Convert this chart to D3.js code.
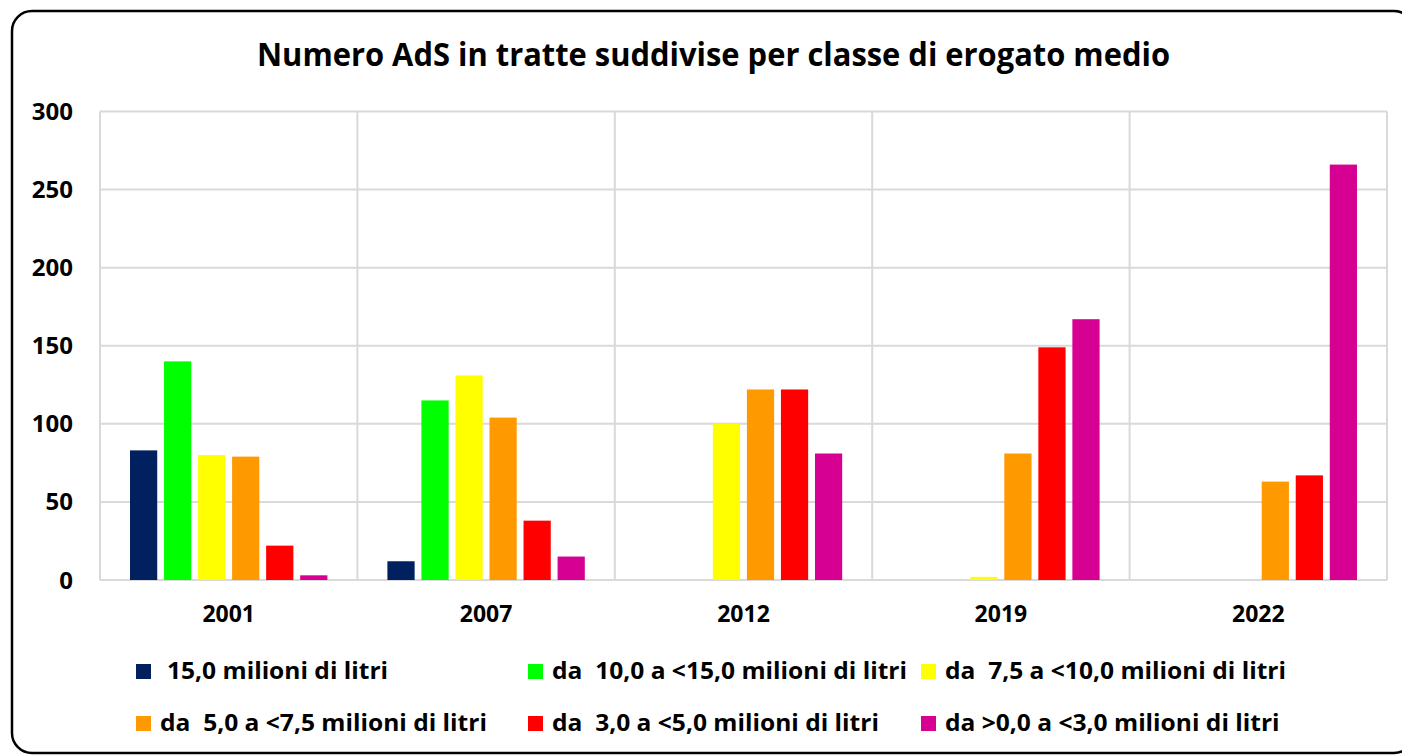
<!DOCTYPE html>
<html>
<head>
<meta charset="utf-8">
<script src="https://cdn.jsdelivr.net/npm/d3@7"></script>
<style>
  html, body { margin: 0; padding: 0; background: #fff; }
  svg text { font-family: "Open Sans", "Liberation Sans", Arial, sans-serif; font-weight: 700; fill: #000; white-space: pre; }
</style>
</head>
<body>
<div id="chart"></div>
<script>
// chart data
var years = ["2001", "2007", "2012", "2019", "2022"];
var seriesNames = [
	"15,0 milioni di litri",
	"da  10,0 a <15,0 milioni di litri",
	"da  7,5 a <10,0 milioni di litri",
	"da  5,0 a <7,5 milioni di litri",
	"da  3,0 a <5,0 milioni di litri",
	"da >0,0 a <3,0 milioni di litri"
];
var over15 = [83, 12, 0, 0, 0];
var from10to15 = [140, 115, 0, 0, 0];
var from75to10 = [80, 131, 100, 2, 0];
var from5to75 = [79, 104, 122, 81, 63];
var from3to5 = [22, 38, 122, 149, 67];
var from0to3 = [3, 15, 81, 167, 266];
var yTicks = [0, 50, 100, 150, 200, 250, 300];
var title = "Numero AdS in tratte suddivise per classe di erogato medio";

var seriesValues = [over15, from10to15, from75to10, from5to75, from3to5, from0to3];
var colors = ["#002060", "#00ff00", "#ffff00", "#ff9900", "#ff0000", "#d60093"];

var width = 1402, height = 755;
var svg = d3.select("#chart").append("svg").attr("width", width).attr("height", height);

// outer rounded frame
svg.append("rect")
	.attr("x", 12).attr("y", 11)
	.attr("width", 1402).attr("height", 742)
	.attr("rx", 20).attr("ry", 20)
	.style("fill", "#fff")
	.style("stroke", "#000")
	.style("stroke-width", 2.5);

var PLOT = { left: 100, right: 1387, top: 111.5, bottom: 580 };

var x0 = d3.scaleBand().domain(years).range([PLOT.left, PLOT.right]).padding(0);
var pad = 30;
var x1 = d3.scaleBand().domain(d3.range(seriesNames.length))
	.range([pad, x0.bandwidth() - pad]).paddingInner(0.2);
var y = d3.scaleLinear().domain([0, 300]).range([PLOT.bottom, PLOT.top]);

var grid = svg.append("g").style("stroke", "#d9d9d9").style("stroke-width", 2);

grid.selectAll(".hline").data(yTicks).enter().append("line")
	.attr("x1", PLOT.left).attr("x2", PLOT.right)
	.attr("y1", d => y(d)).attr("y2", d => y(d));

var vx = years.map(d => x0(d)).concat([x0(years[years.length - 1]) + x0.bandwidth()]);
grid.selectAll(".vline").data(vx).enter().append("line")
	.attr("x1", d => d).attr("x2", d => d)
	.attr("y1", y(300)).attr("y2", y(0));

// bars
var rows = [];
years.forEach((yr, i) => {
	seriesValues.forEach((vals, s) => {
		rows.push({ year: yr, s: s, v: vals[i] });
	});
});

svg.append("g").selectAll("rect").data(rows.filter(d => d.v > 0)).enter().append("rect")
	.attr("x", d => x0(d.year) + x1(d.s))
	.attr("width", x1.bandwidth())
	.attr("y", d => y(d.v))
	.attr("height", d => y(0) - y(d.v))
	.style("fill", d => colors[d.s]);

// y labels
svg.append("g").selectAll("text").data(yTicks).enter().append("text")
	.attr("x", 73).attr("y", d => y(d) + 8.5)
	.style("text-anchor", "end")
	.style("font-size", "24px")
	.text(d => d);

// x labels
svg.append("g").selectAll("text").data(years).enter().append("text")
	.attr("x", d => x0(d) + x0.bandwidth() / 2).attr("y", 622)
	.style("text-anchor", "middle")
	.style("font-size", "23px")
	.text(d => d);

// title
var t = svg.append("text")
	.attr("x", 713.5).attr("y", 66)
	.style("text-anchor", "middle")
	.style("font-size", "32px")
	.text(title);
t.attr("textLength", 913).attr("lengthAdjust", "spacingAndGlyphs");

// legend
var legX = [136, 528, 921];
var legY = [664, 716];
var leg = svg.append("g").selectAll("g").data(seriesNames).enter().append("g")
	.attr("transform", (d, i) => `translate(${ legX[i % 3] },${ legY[Math.floor(i / 3)] })`);

leg.append("rect")
	.attr("width", 15).attr("height", 15)
	.style("fill", (d, i) => colors[i]);

var legText = leg.append("text")
	.attr("x", (d, i) => i === 0 ? 31 : 24)
	.attr("y", 15)
	.style("font-size", "24px")
	.text(d => d);

// squeeze legend text to match the narrow original face
var ref = legText.filter((d, i) => i === 1).node().getComputedTextLength();
var k = 355 / ref;
legText.each(function () {
	var w = this.getComputedTextLength();
	d3.select(this).attr("textLength", w * k).attr("lengthAdjust", "spacingAndGlyphs");
});
</script>
</body>
</html>
